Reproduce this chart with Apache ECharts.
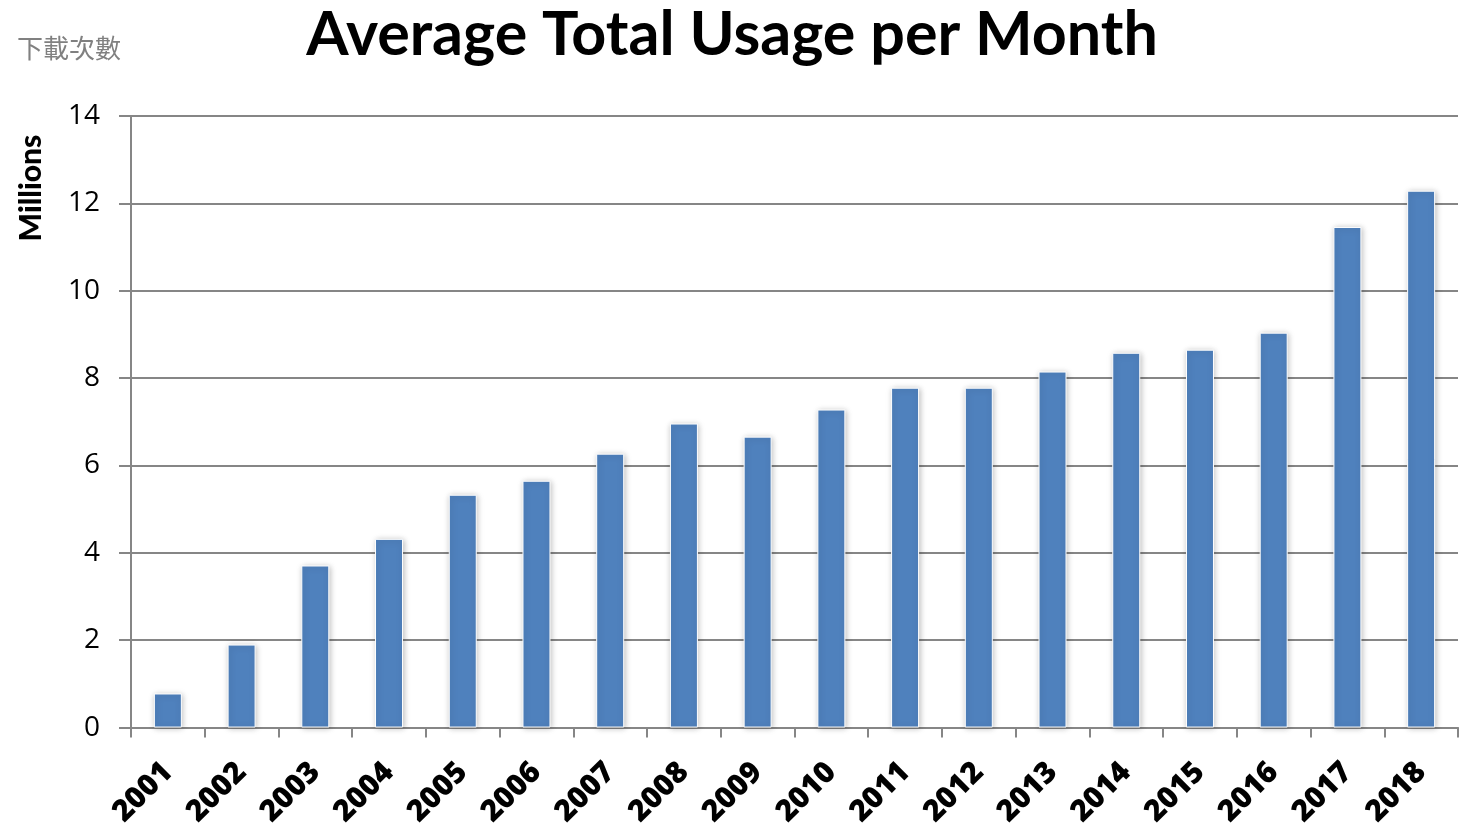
<!DOCTYPE html>
<html><head><meta charset="utf-8">
<script src="https://cdn.jsdelivr.net/npm/echarts@6/dist/echarts.min.js"></script>
<style>html,body{margin:0;padding:0;background:#fff}#c{width:1460px;height:830px}</style>
</head><body><div id="c"></div>
<script>
const years = ['2001','2002','2003','2004','2005','2006','2007','2008','2009','2010','2011','2012','2013','2014','2015','2016','2017','2018'];
const usage = [0.78,1.90,3.71,4.32,5.33,5.65,6.27,6.96,6.66,7.28,7.78,7.78,8.15,8.58,8.65,9.04,11.46,12.29];
const yTicks = [0,2,4,6,8,10,12,14];

const chart = echarts.init(document.getElementById('c'));
chart.setOption({
  animation:false,
  title:[{text:'Average Total Usage per Month',left:727,top:0,textAlign:'center',
    textStyle:{fontFamily:'Lato',fontWeight:'bold',fontSize:61,color:'#000'}},
    {text:'下載次數',left:12,top:30,textStyle:{fontFamily:'Noto Sans CJK TC',fontWeight:'normal',fontSize:26,color:'#808080'}}],
  graphic:[{type:'text',x:31,y:188,rotation:Math.PI/2,
    style:{text:'Millions',align:'center',verticalAlign:'middle',font:'900 30px Lato',fill:'#000'}}],
  grid:{left:131,right:2,top:116,bottom:102},
  xAxis:{type:'category',data:years,
    axisLine:{lineStyle:{color:'#868686',width:2}},
    axisTick:{show:true,length:10,alignWithLabel:false,lineStyle:{color:'#868686',width:2}},
    axisLabel:{rotate:45,interval:0,margin:40,fontFamily:'Open Sans',fontWeight:800,fontSize:30,color:'#000'}},
  yAxis:{type:'value',min:0,max:14,interval:2,
    axisLine:{show:true,lineStyle:{color:'#868686',width:2}},
    axisTick:{show:true,length:12,lineStyle:{color:'#868686',width:2}},
    splitLine:{lineStyle:{color:'#868686',width:2}},
    axisLabel:{margin:31,fontFamily:'Open Sans',fontSize:28,color:'#000',
      formatter:v=>yTicks.includes(v)?String(v):''}},
  series:[{type:'bar',data:usage,barWidth:28,
    itemStyle:{color:'#4F81BD',borderColor:'#fff',borderWidth:1,shadowColor:'rgba(0,0,0,0.25)',shadowBlur:6,shadowOffsetX:1,shadowOffsetY:1}}]
});
</script></body></html>
